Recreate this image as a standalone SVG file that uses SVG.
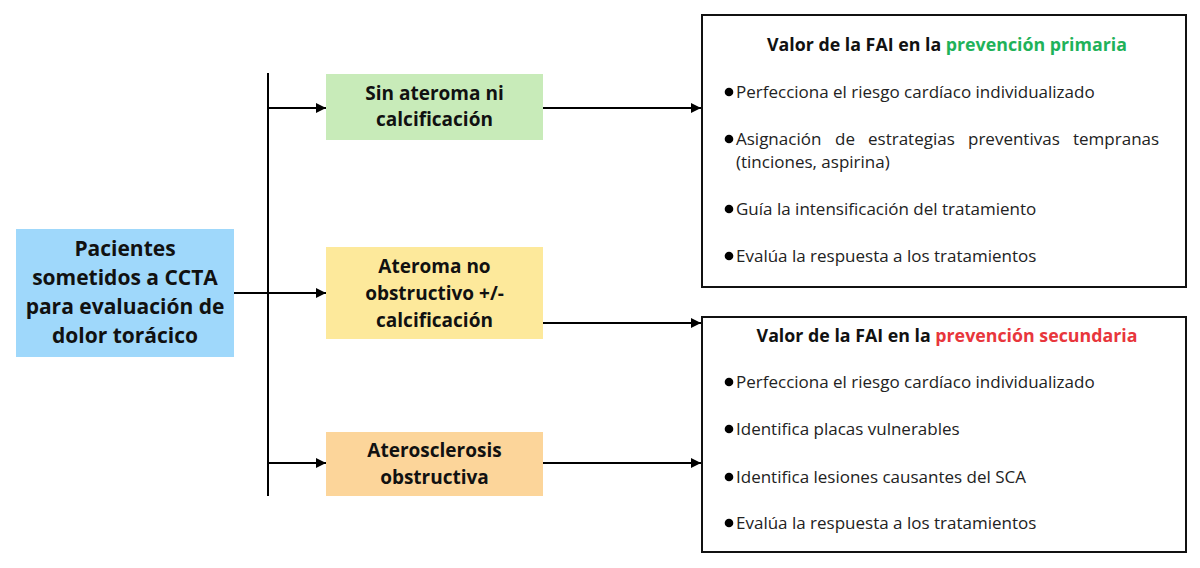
<svg xmlns="http://www.w3.org/2000/svg" width="1200" height="568" viewBox="0 0 1200 568">
<style>
.bx{font-family:"Open Sans","Liberation Sans",sans-serif;font-weight:700;fill:#111;text-anchor:middle}
.n{font-size:21px}
.m{font-size:19px}
.t{font-family:"Open Sans","Liberation Sans",sans-serif;font-weight:700;font-size:17.8px;fill:#111;text-anchor:middle}
.b{font-family:"Open Sans","Liberation Sans",sans-serif;font-size:17px;fill:#222}
.ln{stroke:#000;stroke-width:2;fill:none}
.panel{fill:#fff;stroke:#111;stroke-width:2}
</style>
<defs>
<marker id="ah" viewBox="0 0 10 10" refX="10" refY="5" markerWidth="5" markerHeight="5" orient="auto" markerUnits="strokeWidth">
<path d="M0,0 L10,5 L0,10 z" fill="#000"/>
</marker>
</defs>
<rect width="1200" height="568" fill="#fff"/>
<g id="connectors">
<line class="ln" x1="268" y1="73" x2="268" y2="496"/>
<line class="ln" x1="234" y1="293" x2="326" y2="293" marker-end="url(#ah)"/>
<line class="ln" x1="268" y1="108" x2="326" y2="108" marker-end="url(#ah)"/>
<line class="ln" x1="268" y1="463" x2="326" y2="463" marker-end="url(#ah)"/>
<line class="ln" x1="543" y1="108" x2="701" y2="108" marker-end="url(#ah)"/>
<line class="ln" x1="543" y1="323" x2="701" y2="323" marker-end="url(#ah)"/>
<line class="ln" x1="543" y1="463" x2="701" y2="463" marker-end="url(#ah)"/>
</g>
<g id="pacientes">
<rect x="16" y="229" width="218" height="128" fill="#9fd8fb"/>
<text class="bx n" x="125" y="256">Pacientes</text>
<text class="bx n" x="125" y="285">sometidos a CCTA</text>
<text class="bx n" x="125" y="314">para evaluación de</text>
<text class="bx n" x="125" y="343">dolor torácico</text>
</g>
<g id="sin-ateroma">
<rect x="326" y="74" width="217" height="66" fill="#c8ebb9"/>
<text class="bx m" x="434.5" y="100">Sin ateroma ni</text>
<text class="bx m" x="434.5" y="126">calcificación</text>
</g>
<g id="ateroma-no-obstructivo">
<rect x="326" y="247" width="217" height="92" fill="#fde99b"/>
<text class="bx m" x="434.5" y="273">Ateroma no</text>
<text class="bx m" x="434.5" y="300">obstructivo +/-</text>
<text class="bx m" x="434.5" y="327">calcificación</text>
</g>
<g id="aterosclerosis">
<rect x="326" y="432" width="217" height="64" fill="#fcd59a"/>
<text class="bx m" x="434.5" y="457">Aterosclerosis</text>
<text class="bx m" x="434.5" y="484">obstructiva</text>
</g>
<g id="prevencion-primaria">
<rect class="panel" x="702" y="15" width="484" height="272"/>
<text class="t" x="947" y="51">Valor de la FAI en la <tspan fill="#1fb25a">prevención primaria</tspan></text>
<circle cx="729" cy="92" r="4.3" fill="#000"/>
<text class="b" x="736" y="98">Perfecciona el riesgo cardíaco individualizado</text>
<circle cx="729" cy="139" r="4.3" fill="#000"/>
<text class="b" y="145"><tspan x="736">Asignación</tspan><tspan x="835">de</tspan><tspan x="868">estrategias</tspan><tspan x="968">preventivas</tspan><tspan x="1073">tempranas</tspan></text>
<text class="b" x="736" y="168">(tinciones, aspirina)</text>
<circle cx="729" cy="209" r="4.3" fill="#000"/>
<text class="b" x="736" y="215">Guía la intensificación del tratamiento</text>
<circle cx="729" cy="256" r="4.3" fill="#000"/>
<text class="b" x="736" y="262">Evalúa la respuesta a los tratamientos</text>
</g>
<g id="prevencion-secundaria">
<rect class="panel" x="702" y="317" width="484" height="235"/>
<text class="t" x="947" y="342">Valor de la FAI en la <tspan fill="#e8363c">prevención secundaria</tspan></text>
<circle cx="729" cy="382" r="4.3" fill="#000"/>
<text class="b" x="736" y="388">Perfecciona el riesgo cardíaco individualizado</text>
<circle cx="729" cy="429" r="4.3" fill="#000"/>
<text class="b" x="736" y="435">Identifica placas vulnerables</text>
<circle cx="729" cy="477" r="4.3" fill="#000"/>
<text class="b" x="736" y="483">Identifica lesiones causantes del SCA</text>
<circle cx="729" cy="523" r="4.3" fill="#000"/>
<text class="b" x="736" y="529">Evalúa la respuesta a los tratamientos</text>
</g>
</svg>
